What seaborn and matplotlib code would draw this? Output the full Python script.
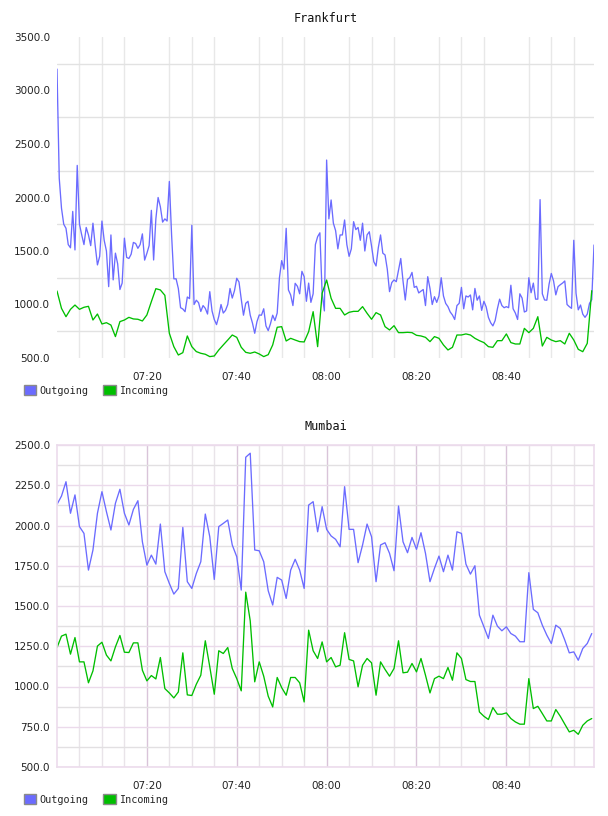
import numpy as np
import pandas as pd
import matplotlib
matplotlib.use("Agg")
import matplotlib.pyplot as plt
import matplotlib.dates as mdates
from matplotlib.patches import Patch
import seaborn as sns

# ---- data ----
series_names = ["Outgoing", "Incoming"]
series_colors = ["#6b6bff", "#00bf00"]

# Frankfurt outgoing, one value every 30 s from 07:00
frankfurt_outgoing = [
    3200, 2180, 1900, 1750, 1712, 1560, 1530, 1870, 1510, 2300,
    1750, 1650, 1560, 1720, 1650, 1550, 1760, 1550, 1370, 1450,
    1780, 1600, 1500, 1167, 1650, 1230, 1480, 1380, 1140, 1200,
    1620, 1440, 1430, 1470, 1580, 1570, 1525, 1560, 1660, 1415,
    1478, 1550, 1880, 1416, 1800, 2000, 1914, 1770, 1800, 1780,
    2150, 1650, 1240, 1240, 1150, 970, 958, 933, 1070, 1055,
    1740, 1000, 1040, 1017, 935, 990, 964, 911, 1120, 940,
    860, 812, 890, 1000, 920, 945, 1000, 1150, 1060, 1130,
    1245, 1210, 1050, 900, 1011, 1030, 900, 826, 731, 840,
    902, 900, 960, 800, 756, 820, 900, 850, 920, 1250,
    1410, 1330, 1712, 1136, 1089, 990, 1198, 1170, 1100, 1310,
    1260, 1030, 1200, 1020, 1100, 1560, 1634, 1670, 1105, 940,
    2350, 1800, 1977, 1760, 1690, 1520, 1650, 1650, 1790, 1560,
    1450, 1520, 1774, 1700, 1720, 1600, 1760, 1500, 1650, 1680,
    1545, 1400, 1360, 1530, 1650, 1480, 1463, 1330, 1120, 1205,
    1230, 1213, 1320, 1430, 1220, 1042, 1235, 1250, 1300, 1160,
    1170, 1108, 1125, 1140, 990, 1260, 1150, 1000, 1073, 1020,
    1080, 1250, 1080, 1010, 980, 930, 902, 860, 990, 1011,
    1160, 960, 1080, 1070, 1089, 950, 1150, 1040, 1080, 945,
    1030, 978, 880, 830, 800, 850, 960, 1050, 990, 970,
    980, 970, 1180, 960, 920, 860, 1100, 1060, 930, 940,
    1250, 1110, 1200, 1050, 1050, 1980, 1100, 1042, 1040, 1190,
    1290, 1220, 1090, 1167, 1185, 1200, 1220, 1000, 980, 964,
    1600, 1105, 950, 995, 910, 880, 910, 1011, 1045, 1556,
]

# Frankfurt incoming, one value per minute
frankfurt_incoming = [
    1126, 964, 886, 955, 995, 955, 974, 983, 855, 911,
    818, 830, 808, 700, 840, 855, 880, 865, 862, 846,
    902, 1027, 1148, 1136, 1086, 731, 606, 528, 550, 706,
    606, 560, 544, 535, 513, 519, 575, 622, 668, 715,
    693, 600, 553, 544, 556, 538, 513, 531, 622, 787,
    793, 659, 684, 668, 653, 650, 746, 933, 606, 1105,
    1229, 1058, 964, 964, 902, 927, 936, 936, 980, 918,
    862, 924, 902, 793, 762, 802, 737, 737, 740, 737,
    712, 706, 693, 653, 700, 684, 622, 575, 600, 715,
    715, 725, 715, 684, 662, 644, 606, 600, 662, 662,
    725, 644, 631, 631, 777, 737, 777, 886, 612, 693,
    668, 653, 662, 631, 731, 668, 581, 559, 637, 1129,
]

mumbai_outgoing = [
    2131, 2183, 2272, 2076, 2190, 1993, 1951, 1723, 1848, 2076,
    2210, 2086, 1972, 2138, 2225, 2076, 2003, 2100, 2154, 1899,
    1754, 1816, 1760, 2009, 1713, 1640, 1574, 1609, 1988, 1651,
    1609, 1702, 1775, 2071, 1930, 1665, 1993, 2013, 2034, 1879,
    1806, 1599, 2424, 2449, 1848, 1843, 1775, 1595, 1506, 1678,
    1661, 1547, 1723, 1790, 1723, 1609, 2127, 2148, 1961, 2117,
    1976, 1935, 1914, 1868, 2241, 1976, 1976, 1769, 1879, 2009,
    1930, 1651, 1879, 1893, 1827, 1719, 2121, 1899, 1831, 1926,
    1852, 1955, 1827, 1651, 1734, 1810, 1713, 1816, 1723, 1961,
    1951, 1760, 1698, 1750, 1443, 1371, 1298, 1443, 1375, 1346,
    1371, 1329, 1313, 1278, 1278, 1707, 1479, 1458, 1381, 1319,
    1267, 1381, 1360, 1288, 1209, 1215, 1163, 1236, 1267, 1329,
]

mumbai_incoming = [
    1242, 1313, 1325, 1201, 1304, 1153, 1153, 1023, 1097, 1251,
    1275, 1195, 1159, 1246, 1317, 1213, 1211, 1271, 1271, 1101,
    1035, 1068, 1047, 1180, 987, 960, 929, 966, 1209, 948,
    944, 1014, 1070, 1284, 1122, 952, 1222, 1205, 1242, 1112,
    1049, 973, 1586, 1408, 1029, 1153, 1064, 940, 873, 1056,
    993, 946, 1056, 1056, 1023, 904, 1350, 1222, 1174, 1277,
    1153, 1180, 1122, 1132, 1334, 1168, 1159, 998, 1132, 1174,
    1147, 946, 1153, 1106, 1064, 1112, 1284, 1085, 1089, 1143,
    1091, 1174, 1070, 960, 1049, 1064, 1049, 1118, 1039, 1209,
    1174, 1043, 1031, 1031, 842, 815, 795, 869, 828, 828,
    836, 801, 780, 766, 766, 1049, 863, 877, 832, 786,
    786, 857, 815, 766, 718, 728, 703, 759, 786, 801,
]

start_time = "2021-01-01 07:00:00"
end_time = "2021-01-01 08:59:30"
tick_times = ["07:20", "07:40", "08:00", "08:20", "08:40"]


def make_frame(out_vals, out_step, in_vals, in_step):
    t0 = pd.Timestamp(start_time)
    a = pd.DataFrame({"time": pd.date_range(t0, periods=len(out_vals), freq=out_step),
                      "value": out_vals, "series": series_names[0]})
    b = pd.DataFrame({"time": pd.date_range(t0, periods=len(in_vals), freq=in_step),
                      "value": in_vals, "series": series_names[1]})
    return pd.concat([a, b], ignore_index=True)


df_fra = make_frame(frankfurt_outgoing, "30s", frankfurt_incoming, "60s")
df_bom = make_frame(mumbai_outgoing, "60s", mumbai_incoming, "60s")

sns.set_style("white")
plt.rcParams["font.family"] = ["DejaVu Sans"]

fig = plt.figure(figsize=(6.08, 8.16), dpi=100)
W, H = 608.0, 816.0
ax1 = fig.add_axes([57 / W, 1 - 358 / H, 537 / W, 321 / H])
ax2 = fig.add_axes([57 / W, 1 - 767 / H, 537 / W, 322 / H])

palette = dict(zip(series_names, series_colors))
day = pd.Timestamp(start_time).normalize()
xticks = [day + pd.Timedelta(t + ":00") for t in tick_times]
minor_x = pd.date_range(pd.Timestamp(start_time) + pd.Timedelta("5min"),
                        pd.Timestamp(end_time), freq="5min")


def style_axes(ax, title, ymin, ymax, ystep, yminor, hgrid, vgrid, vmajor, box):
    ax.set_xlim(pd.Timestamp(start_time), pd.Timestamp(end_time))
    ax.set_ylim(ymin, ymax)
    ax.set_yticks(np.arange(ymin, ymax + 1, ystep))
    ax.set_yticks(yminor, minor=True)
    ax.yaxis.set_major_formatter(matplotlib.ticker.FormatStrFormatter("%.1f"))
    ax.set_xticks(xticks)
    ax.set_xticks(minor_x, minor=True)
    ax.xaxis.set_major_formatter(mdates.DateFormatter("%H:%M"))
    ax.grid(False)
    ax.grid(True, which="minor", axis="y", color=hgrid[1], lw=1.0)
    ax.grid(True, which="minor", axis="x", color=vgrid, lw=1.0)
    if hgrid[0]:
        ax.grid(True, which="major", axis="y", color=hgrid[0], lw=1.0)
    if vmajor:
        ax.grid(True, which="major", axis="x", color=vmajor, lw=1.0)
    ax.set_axisbelow(True)
    ax.tick_params(which="both", length=0, labelsize=7.5, colors="#222222")
    ax.tick_params(axis="y", pad=5)
    ax.tick_params(axis="x", pad=10)
    for s in ax.spines.values():
        s.set_visible(box is not None)
        if box:
            s.set_color(box)
            s.set_linewidth(1.2)
    ax.set_xlabel("")
    ax.set_ylabel("")
    ax.set_title(title, family="DejaVu Sans Mono", fontsize=8.5, pad=11, color="#111111")
    handles = [Patch(facecolor=c, edgecolor="#8a8a8a", lw=1.0) for c in series_colors]
    bottom = ax.get_position().y0
    ax.legend(handles, series_names, loc="upper left", ncol=2, frameon=False,
              bbox_to_anchor=(24 / W, bottom - 27 / H), bbox_transform=fig.transFigure,
              prop={"family": "DejaVu Sans Mono", "size": 7.3},
              handlelength=1.2, handleheight=1.2, handletextpad=0.3,
              columnspacing=1.5, borderpad=0, borderaxespad=0)


sns.lineplot(data=df_fra, x="time", y="value", hue="series", palette=palette,
             linewidth=0.95, legend=False, ax=ax1)
style_axes(ax1, "Frankfurt", 500, 3500, 500, np.arange(750, 3500, 500),
           (None, "#e2e2e2"), "#e8e8e8", None, None)

sns.lineplot(data=df_bom, x="time", y="value", hue="series", palette=palette,
             linewidth=0.95, legend=False, ax=ax2)
style_axes(ax2, "Mumbai", 500, 2500, 250, np.arange(625, 2500, 250),
           ("#ebdaeb", "#e2e0e2"), "#e9e4e9", "#d9c4d9", "#ecdcec")

fig.savefig("out.png", dpi=100)
